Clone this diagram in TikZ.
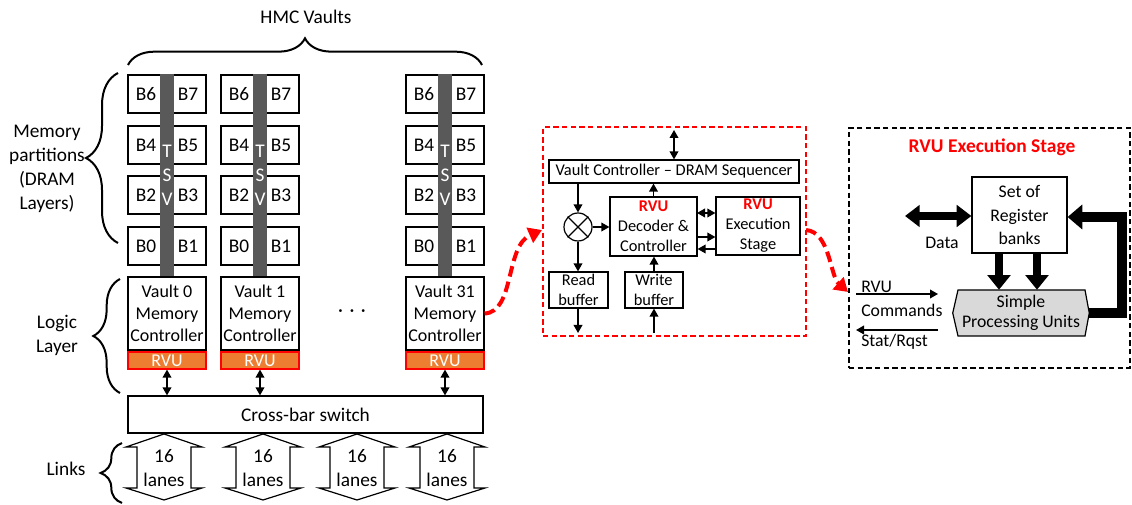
\documentclass[tikz,border=0pt]{standalone}
\usepackage{fontspec}
\setmainfont{Carlito}
\usetikzlibrary{arrows.meta,decorations.pathreplacing,calc}
\definecolor{rvuorange}{HTML}{ED7D31}
\definecolor{rvured}{HTML}{FF0000}
\definecolor{tsvgray}{HTML}{595959}
\definecolor{spugray}{HTML}{D9D9D9}
\newcommand\fmain{\fontsize{14.5}{18}\selectfont}
\newcommand\fvault{\fontsize{13.5}{16.5}\selectfont}
\newcommand\fin{\fontsize{12.3}{15}\selectfont}
\newcommand\fex{\fontsize{13.3}{17.5}\selectfont}
\begin{document}
\begin{tikzpicture}[x=0.75pt,y=-0.75pt,
  sz/.style 2 args={minimum width=#1*0.75pt,minimum height=#2*0.75pt},
  box/.style={draw,line width=0.9pt,inner sep=0pt,fill=white,align=center},
  bank/.style={box,font=\fmain},
  vaultbox/.style={box,font=\fvault},
  rvubar/.style={draw=rvured,line width=0.9pt,fill=rvuorange,inner sep=0pt,text=white,font=\fvault},
  tsvbar/.style={fill=tsvgray,inner sep=0pt},
  inbox/.style={box,font=\fin},
  exbox/.style={box,font=\fex},
  thin/.style={line width=1.1pt,-{Triangle[length=6pt,width=6.5pt]}},
  dbl/.style={line width=1.1pt,{Triangle[length=6pt,width=6.5pt]}-{Triangle[length=6pt,width=6.5pt]}},
  fat/.style={line width=6pt,-{Triangle[length=11pt,width=17pt]}},
  fatdbl/.style={line width=6pt,{Triangle[length=11pt,width=16pt]}-{Triangle[length=11pt,width=16pt]}},
  redcurve/.style={draw=rvured,line width=3pt,dash pattern=on 8pt off 4pt,-{Triangle[length=10pt,width=12pt]}},
  bracestyle/.style={decorate,line width=1.5pt,decoration={brace,amplitude=#1}},
  frame/.style={inner sep=0pt,line width=0.8pt,dash pattern=on 4pt off 2.5pt},
  label/.style={inner sep=0pt,align=center},
]
\useasboundingbox (0,0) rectangle (1132,505);

% ---------- HMC vaults: banks, TSVs, controllers ----------
\foreach \x/\n in {128/0,221/1,406/31}{
  \foreach \a/\b/\y in {6/7/75,4/5/126,2/3/176,0/1/227}{
    \node[bank,sz={36}{38}] (b\n-\a) at (\x+18,\y+19) {B\a};
    \node[bank,sz={36}{38}] (b\n-\b) at (\x+60,\y+19) {B\b};
  }
  \node[tsvbar,sz={14}{203}] (tsv\n) at (\x+39,175.5) {};
  \node[label,text=white,font=\fontsize{14.5}{18}\selectfont] (tsvtext\n) at (\x+39,175) {T\\S\\V};
  \node[vaultbox,sz={78}{73}] (vault\n) at (\x+39,313.5) {Vault \n\\Memory\\Controller};
  \node[rvubar,sz={78}{17}] (rvu\n) at (\x+39,360.5) {RVU};
}
\node[label,font=\fmain] (dots) at (352,313) {·\,\,·\,\,·};

% cross-bar switch and its links to the RVUs
\node[box,font=\fmain,sz={355}{37}] (xbar) at (305.5,414.5) {Cross-bar switch};
\foreach \n in {0,1,31}{
  \draw[dbl] (rvu\n.south) -- (rvu\n.south |- xbar.north);
}

% serial links
\foreach \cx/\i in {164/1,263/2,357/3,447/4}{
  \draw[line width=0.9pt,fill=white] (\cx,434) -- (\cx+38,447) -- (\cx+27,447) -- (\cx+27,488)
     -- (\cx+38,488) -- (\cx,500) -- (\cx-38,488) -- (\cx-27,488) -- (\cx-27,447)
     -- (\cx-38,447) -- cycle;
  \node[label,font=\fontsize{14.5}{17.5}\selectfont] (link\i) at (\cx,468) {16\\lanes};
}

% ---------- braces and side labels ----------
\draw[bracestyle=20] (128,65) -- (482,65);
\node[label,font=\fmain] (hmc) at (306,17) {HMC Vaults};

\draw[bracestyle=24] (118,243) -- (118,73);
\node[label,font=\fmain] (mempart) at (47,169) {Memory\\partitions\\(DRAM\\Layers)};

\draw[bracestyle=20] (120,393) -- (120,279);
\node[label,font=\fmain] (logic) at (57,335) {Logic\\Layer};

\draw[bracestyle=16] (122,503) -- (122,443);
\node[label,font=\fmain] (links) at (66,469) {Links};

% ---------- vault controller detail ----------
\node[frame,draw=rvured,sz={263}{209}] (detail) at (674.5,231.5) {};
\node[inbox,sz={250}{23}] (vc) at (674,171.5) {Vault Controller -- DRAM Sequencer};
\coordinate (vcin) at (674,130);
\draw[dbl] (vcin) -- (vc.north -| vcin);

\node[draw,circle,line width=0.9pt,minimum size=21pt,inner sep=0pt] (mux) at (578,227) {};
\draw[line width=0.9pt] (mux.45) -- (mux.225) (mux.135) -- (mux.315);

\node[inbox,sz={87}{59}] (dec) at (653.5,226.5)
  {\textcolor{rvured}{\textbf{RVU}}\\Decoder \&\\Controller};
\node[inbox,sz={84}{58}] (exe) at (758,226)
  {\textcolor{rvured}{\textbf{RVU}}\\Execution\\Stage};
\node[inbox,sz={59}{36}] (rb) at (578.5,290) {Read\\buffer};
\node[inbox,sz={58}{36}] (wb) at (654,290) {Write\\buffer};

\draw[thin] (vc.south -| mux) -- (mux.north);
\draw[thin] (mux.east) -- (dec.west |- mux);
\draw[thin] (mux.south) -- (rb.north -| mux);
\coordinate (rbout) at (578,333);
\draw[thin] (rb.south -| rbout) -- (rbout);
\draw[thin] (dec.north) -- (vc.south -| dec.north);
\coordinate (wbin) at (654,333);
\draw[thin] (wbin) -- (wb.south -| wbin);
\draw[thin] (wb.north -| wbin) -- (dec.south -| wbin);
\coordinate (d1) at (697,213);
\coordinate (d2) at (697,237);
\coordinate (d3) at (716,249);
\draw[dbl] (d1) -- (exe.west |- d1);
\draw[thin] (d2) -- (exe.west |- d2);
\draw[thin] (d3) -- (dec.east |- d3);

% ---------- RVU execution stage ----------
\node[frame,draw,sz={281}{240}] (stage) at (989.5,248) {};
\node[label,text=rvured,font=\fontsize{14.6}{17}\selectfont\bfseries] (title) at (992,147) {RVU Execution Stage};
\node[exbox,sz={95}{76}] (reg) at (1019.5,215) {Set of\\Register\\banks};
\node[inner sep=0pt,sz={136}{46}] (spu) at (1021,313) {};
\draw[line width=0.9pt,fill=spugray] (958,290) -- (1085,290) -- (spu.east) -- (1085,336)
   -- (958,336) -- (spu.west) -- cycle;
\node[label,font=\fontsize{13.3}{15}\selectfont] (sputext) at (spu.center) {Simple\\Processing Units};

\coordinate (datal) at (905,216);
\draw[fatdbl] (datal) -- (reg.west |- datal);
\node[label,font=\fex] (data) at (942,243) {Data};
\draw[fat] (reg.south -| 999,0) -- (spu.north -| 999,0);
\draw[fat] (reg.south -| 1037,0) -- (spu.north -| 1037,0);
\draw[line width=7pt,-{Triangle[length=11pt,width=18pt]}] (spu.east) -- (1122,313) |- (reg.east |- 0,217);

\coordinate (cmdin) at (856,294);
\coordinate (cmdend) at (938,294);
\draw[line width=1.1pt,-{Triangle[length=6pt,width=6.5pt]}] (cmdin) -- (cmdend);
\coordinate (statin) at (938,330);
\coordinate (statend) at (856,330);
\draw[line width=1.1pt,-{Triangle[length=6pt,width=6.5pt]}] (statin) -- (statend);
\node[label,anchor=west,font=\fex] (rvucmd) at (861,287) {RVU};
\node[label,anchor=west,font=\fex] (cmd) at (861,310) {Commands};
\node[label,anchor=west,font=\fex] (stat) at (861,342) {Stat/Rqst};

% ---------- zoom-in connectors ----------
\coordinate (into) at (542,230);
\draw[redcurve] (vault31.east) .. controls (515,312) and (505,246) .. (into);
\coordinate (outof) at (806,230);
\coordinate (stagein) at (848,292);
\draw[redcurve] (outof) .. controls (830,232) and (830,276) .. (stagein);
\end{tikzpicture}
\end{document}
